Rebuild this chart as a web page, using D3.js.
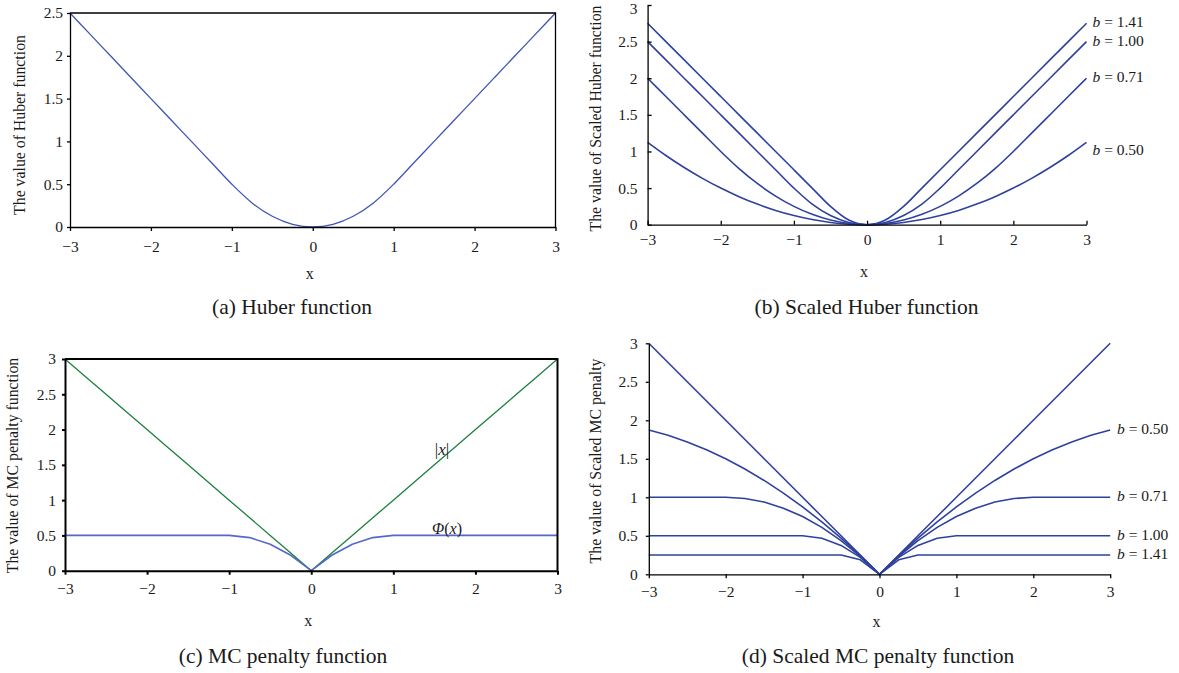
<!DOCTYPE html>
<html>
<head>
<meta charset="utf-8">
<script src="https://cdn.jsdelivr.net/npm/d3@7"></script>
<style>
  body { margin: 0; background: #fff; }
  text { font-family: "Liberation Serif", "Times New Roman", serif; fill: #1a1a1a; }
</style>
</head>
<body>
<div id="chart"></div>
<script>
// x grid shared by every curve
const xGrid = [-3, -2.75, -2.5, -2.25, -2, -1.75, -1.5, -1.25, -1, -0.75, -0.5, -0.25, 0,
  0.25, 0.5, 0.75, 1, 1.25, 1.5, 1.75, 2, 2.25, 2.5, 2.75, 3];

const xTicks = [-3, -2, -1, 0, 1, 2, 3];
const yTicksA = [0, 0.5, 1, 1.5, 2, 2.5];
const yTicks3 = [0, 0.5, 1, 1.5, 2, 2.5, 3];

// (a) Huber function
const huber = [2.5, 2.25, 2, 1.75, 1.5, 1.25, 1, 0.75, 0.5, 0.281, 0.125, 0.031, 0,
  0.031, 0.125, 0.281, 0.5, 0.75, 1, 1.25, 1.5, 1.75, 2, 2.25, 2.5];

// (b) scaled Huber function
const bLabels = ["1.41", "1.00", "0.71", "0.50"];
const sHuber141 = [2.75, 2.5, 2.25, 2, 1.75, 1.5, 1.25, 1, 0.75, 0.5, 0.25, 0.063, 0,
  0.063, 0.25, 0.5, 0.75, 1, 1.25, 1.5, 1.75, 2, 2.25, 2.5, 2.75];
const sHuber100 = [2.5, 2.25, 2, 1.75, 1.5, 1.25, 1, 0.75, 0.5, 0.281, 0.125, 0.031, 0,
  0.031, 0.125, 0.281, 0.5, 0.75, 1, 1.25, 1.5, 1.75, 2, 2.25, 2.5];
const sHuber071 = [2, 1.75, 1.5, 1.25, 1, 0.766, 0.563, 0.391, 0.25, 0.141, 0.063, 0.016, 0,
  0.016, 0.063, 0.141, 0.25, 0.391, 0.563, 0.766, 1, 1.25, 1.5, 1.75, 2];
const sHuber050 = [1.125, 0.945, 0.781, 0.633, 0.5, 0.383, 0.281, 0.195, 0.125, 0.07, 0.031, 0.008, 0,
  0.008, 0.031, 0.07, 0.125, 0.195, 0.281, 0.383, 0.5, 0.633, 0.781, 0.945, 1.125];

// (c) MC penalty, (d) scaled MC penalty
const absX = [3, 2.75, 2.5, 2.25, 2, 1.75, 1.5, 1.25, 1, 0.75, 0.5, 0.25, 0,
  0.25, 0.5, 0.75, 1, 1.25, 1.5, 1.75, 2, 2.25, 2.5, 2.75, 3];
const mc050 = [1.875, 1.805, 1.719, 1.617, 1.5, 1.367, 1.219, 1.055, 0.875, 0.68, 0.469, 0.242, 0,
  0.242, 0.469, 0.68, 0.875, 1.055, 1.219, 1.367, 1.5, 1.617, 1.719, 1.805, 1.875];
const mc071 = [1, 1, 1, 1, 1, 0.984, 0.938, 0.859, 0.75, 0.609, 0.438, 0.234, 0,
  0.234, 0.438, 0.609, 0.75, 0.859, 0.938, 0.984, 1, 1, 1, 1, 1];
const mc100 = [0.5, 0.5, 0.5, 0.5, 0.5, 0.5, 0.5, 0.5, 0.5, 0.469, 0.375, 0.219, 0,
  0.219, 0.375, 0.469, 0.5, 0.5, 0.5, 0.5, 0.5, 0.5, 0.5, 0.5, 0.5];
const mc141 = [0.25, 0.25, 0.25, 0.25, 0.25, 0.25, 0.25, 0.25, 0.25, 0.25, 0.25, 0.188, 0,
  0.188, 0.25, 0.25, 0.25, 0.25, 0.25, 0.25, 0.25, 0.25, 0.25, 0.25, 0.25];

const width = 1179, height = 673;
const fmt = d3.format("");

const svg = d3.select("#chart").append("svg")
    .attr("width", width)
    .attr("height", height);

svg.append("rect").attr("width", width).attr("height", height).attr("fill", "#fff");

function panel(p) {
    const x = d3.scaleLinear().domain([-3, 3]).range(p.xr);
    const y = d3.scaleLinear().domain([0, p.ymax]).range(p.yr);
    const g = svg.append("g");

    // series
    const line = d3.line()
        .x((d, i) => x(xGrid[i]))
        .y(d => y(d));
    p.series.forEach(s => {
        g.append("path")
            .datum(s.values)
            .attr("fill", "none")
            .attr("stroke", s.color)
            .attr("stroke-width", s.width)
            .attr("stroke-linejoin", "round")
            .attr("d", line.curve(s.smooth ? d3.curveMonotoneX : d3.curveLinear));
    });

    // frame on top/right
    if (p.box) {
        g.append("path")
            .attr("d", `M${p.xr[0]},${p.yr[1]}H${p.xr[1]}V${p.yr[0]}`)
            .attr("fill", "none")
            .attr("stroke", "#000")
            .attr("stroke-width", p.axisWidth);
    }

    const xAxis = g.append("g")
        .attr("transform", `translate(0,${p.yr[0]})`)
        .call(d3.axisBottom(x).tickValues(xTicks).tickFormat(fmt)
            .tickSizeInner(p.tickIn ? -4 : 4).tickSizeOuter(0).tickPadding(p.xPad));
    const yAxis = g.append("g")
        .attr("transform", `translate(${p.xr[0]},0)`)
        .call(d3.axisLeft(y).tickValues(p.yTicks).tickFormat(fmt)
            .tickSizeInner(p.tickIn ? -4 : 3).tickSizeOuter(0).tickPadding(p.yPad));

    [xAxis, yAxis].forEach(a => {
        a.selectAll("path, line").attr("stroke", "#000").attr("stroke-width", p.axisWidth);
        a.selectAll("text")
            .style("font-family", "'Liberation Serif', serif")
            .style("font-size", "15.5px")
            .attr("fill", "#1a1a1a");
    });
    // keep the top tick label inside the picture
    yAxis.selectAll(".tick text").filter(d => y(d) < 8).attr("dy", "0.55em");

    const cx = (p.xr[0] + p.xr[1]) / 2;
    g.append("text")
        .attr("x", cx - 3)
        .attr("y", p.xLabelY)
        .attr("text-anchor", "middle")
        .style("font-size", "16px")
        .text("x");

    g.append("text")
        .attr("transform", `translate(${p.yLabelX},${p.yLabelY}) rotate(-90)`)
        .attr("text-anchor", "middle")
        .attr("dominant-baseline", "middle")
        .style("font-size", "15.8px")
        .text(p.yLabel);

    g.append("text")
        .attr("x", p.capX)
        .attr("y", p.capY)
        .attr("text-anchor", "middle")
        .style("font-size", "21.5px")
        .text(p.caption);

    return {x, y, g};
}

const blue = "#2f419c";

// (a)
panel({
    xr: [70, 555.5], yr: [227, 13], ymax: 2.5, yTicks: yTicksA,
    box: true, tickIn: false, axisWidth: 1.3, xPad: 10, yPad: 4,
    series: [{values: huber, color: "#3f55b3", width: 1.3, smooth: true}],
    xLabelY: 279, yLabelX: 21, yLabelY: 125, yLabel: "The value of Huber function",
    capX: 292, capY: 314, caption: "(a) Huber function"
});

// (b)
const pb = panel({
    xr: [647.6, 1086.5], yr: [224.7, 5], ymax: 3, yTicks: yTicks3,
    box: false, tickIn: true, axisWidth: 1.3, xPad: 9, yPad: 10,
    series: [sHuber141, sHuber100, sHuber071, sHuber050]
        .map(v => ({values: v, color: blue, width: 1.6, smooth: true})),
    xLabelY: 277, yLabelX: 597, yLabelY: 118.5, yLabel: "The value of Scaled Huber function",
    capX: 866.5, capY: 314, caption: "(b) Scaled Huber function"
});
[sHuber141, sHuber100, sHuber071, sHuber050].forEach((v, i) => {
    const t = pb.g.append("text")
        .attr("x", 1092.5)
        .attr("y", pb.y(v[v.length - 1]) + (i === 3 ? 9 : 0))
        .attr("dominant-baseline", "middle")
        .style("font-size", "15.5px");
    t.append("tspan").style("font-style", "italic").text("b");
    t.append("tspan").text(" = " + bLabels[i]);
});

// (c)
const pc = panel({
    xr: [65, 557.5], yr: [570.7, 359], ymax: 3, yTicks: yTicks3,
    box: true, tickIn: false, axisWidth: 2, xPad: 8, yPad: 6,
    series: [
        {values: absX, color: "#1c8040", width: 1.3, smooth: false},
        {values: mc100, color: "#5468c6", width: 1.6, smooth: false}
    ],
    xLabelY: 626, yLabelX: 14, yLabelY: 465.5, yLabel: "The value of MC penalty function",
    capX: 283, capY: 663, caption: "(c) MC penalty function"
});
const absLab = pc.g.append("text")
    .attr("x", 442).attr("y", 451)
    .attr("text-anchor", "middle")
    .attr("dominant-baseline", "middle")
    .style("font-size", "17px");
absLab.append("tspan").text("|");
absLab.append("tspan").style("font-style", "italic").text("x");
absLab.append("tspan").text("|");
const phiLab = pc.g.append("text")
    .attr("x", 447).attr("y", 529.5)
    .attr("text-anchor", "middle")
    .attr("dominant-baseline", "middle")
    .style("font-size", "16px");
phiLab.append("tspan").style("font-style", "italic").text("\u03A6");
phiLab.append("tspan").text("(");
phiLab.append("tspan").style("font-style", "italic").text("x");
phiLab.append("tspan").text(")");

// (d)
const mcSeries = [mc050, mc071, mc100, mc141];
const mcLabels = ["0.50", "0.71", "1.00", "1.41"];
const pd = panel({
    xr: [648.8, 1110.2], yr: [574.3, 343.3], ymax: 3, yTicks: yTicks3,
    box: false, tickIn: false, axisWidth: 1.3, xPad: 8, yPad: 8,
    series: [absX].concat(mcSeries)
        .map(v => ({values: v, color: blue, width: 1.6, smooth: false})),
    xLabelY: 627, yLabelX: 597, yLabelY: 461, yLabel: "The value of Scaled MC penalty",
    capX: 878, capY: 663, caption: "(d) Scaled MC penalty function"
});
mcSeries.forEach((v, i) => {
    const t = pd.g.append("text")
        .attr("x", 1117)
        .attr("y", pd.y(v[v.length - 1]))
        .attr("dominant-baseline", "middle")
        .style("font-size", "15.5px");
    t.append("tspan").style("font-style", "italic").text("b");
    t.append("tspan").text(" = " + mcLabels[i]);
});
</script>
</body>
</html>
